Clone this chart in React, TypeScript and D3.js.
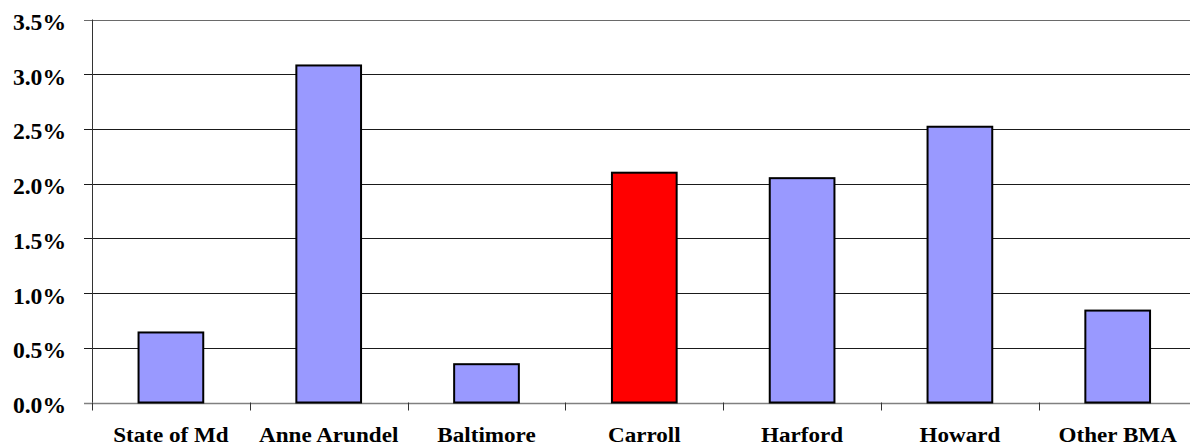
import React from "react";
import * as d3 from "d3";

// Growth rate by jurisdiction
const categories: string[] = [
  "State of Md",
  "Anne Arundel",
  "Baltimore",
  "Carroll",
  "Harford",
  "Howard",
  "Other BMA",
];
const growthPct: number[] = [0.64, 3.08, 0.35, 2.1, 2.05, 2.52, 0.84];
const highlighted: string[] = ["Carroll"];
const yTicks: number[] = [0, 0.5, 1.0, 1.5, 2.0, 2.5, 3.0, 3.5];

const W = 1190;
const H = 448;
const left = 92;
const step = 157.8;
const right = left + categories.length * step;
const top = 19.5;
const bottom = 402.5;

const FONT = "'Liberation Serif', 'Times New Roman', serif";

export default function App() {
  const x = d3
    .scaleBand<string>()
    .domain(categories)
    .range([left, right])
    .paddingInner(0.59)
    .paddingOuter(0.295);
  const band = d3.scaleBand<string>().domain(categories).range([left, right]);
  const y = d3.scaleLinear().domain([0, 3.5]).range([bottom, top]);
  const fmt = d3.format(".1f");
  const boundaries = d3.range(categories.length + 1).map((i) => left + i * band.step());

  return (
    <svg
      width={W}
      height={H}
      style={{ position: "absolute", left: 0, top: 0, background: "#fff" }}
    >
      {/* horizontal gridlines and y ticks */}
      {yTicks.map((t) => (
        <g key={t}>
          <line
            x1={left - 8}
            x2={right}
            y1={Math.round(y(t)) + 0.5}
            y2={Math.round(y(t)) + 0.5}
            stroke={t === 0 ? "#808080" : t === 3.5 ? "#6a6a6a" : "#1a1a1a"}
            strokeWidth={t === 0 ? 1.5 : 1}
          />
          <text
            transform={`translate(66,${y(t) + 10.5}) scale(1.05,1)`}
            textAnchor="end"
            fontFamily={FONT}
            fontWeight="bold"
            fontSize={22.5}
            fill="#000"
          >
            {fmt(t)}%
          </text>
        </g>
      ))}

      {/* y axis line */}
      <line x1={left + 0.5} x2={left + 0.5} y1={top} y2={bottom} stroke="#333" strokeWidth={1} />

      {/* category boundary ticks */}
      {boundaries.map((bx, i) => (
        <line
          key={i}
          x1={Math.round(bx) + 0.5}
          x2={Math.round(bx) + 0.5}
          y1={bottom}
          y2={bottom + 8}
          stroke="#333"
          strokeWidth={1}
        />
      ))}

      {/* bars */}
      {categories.map((c, i) => (
        <rect
          key={c}
          x={x(c)}
          y={y(growthPct[i])}
          width={x.bandwidth()}
          height={y(0) - y(growthPct[i])}
          fill={highlighted.includes(c) ? "#FF0000" : "#9999FF"}
          stroke="#000"
          strokeWidth={2}
        />
      ))}

      {/* category labels */}
      {categories.map((c) => (
        <text
          key={c}
          transform={`translate(${(band(c) as number) + band.bandwidth() / 2},442) scale(1.1,1)`}
          textAnchor="middle"
          fontFamily={FONT}
          fontWeight="bold"
          fontSize={21}
          fill="#000"
        >
          {c}
        </text>
      ))}
    </svg>
  );
}
